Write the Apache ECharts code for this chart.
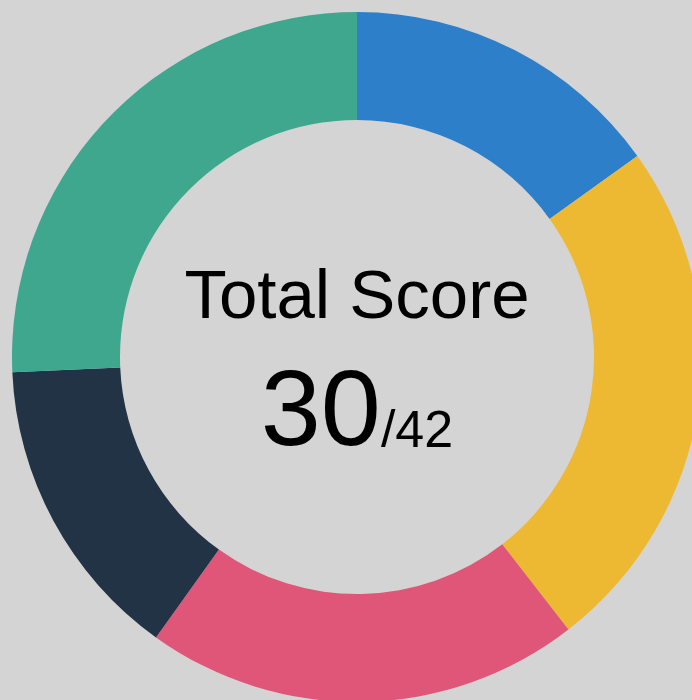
<!DOCTYPE html>
<html>
<head>
<meta charset="utf-8">
<script src="https://cdn.jsdelivr.net/npm/echarts@6/dist/echarts.min.js"></script>
<style>
  html, body { margin: 0; padding: 0; background: #d4d4d4; }
  #chart { width: 692px; height: 700px; }
</style>
</head>
<body>
<div id="chart"></div>
<script>
// segment values (angles -> shares)
var categories = ['Part 1', 'Part 2', 'Part 3', 'Part 4', 'Part 5'];
var values = [15.1, 24.4, 20.4, 14.4, 25.7];
var colors = ['#2d7fc9', '#eeb932', '#e05679', '#223345', '#40a78f'];
var score = 30;
var maxScore = 42;

var chart = echarts.init(document.getElementById('chart'));

var option = {
    backgroundColor: '#d4d4d4',
    animation: false,
    color: colors,
    graphic: [
        {
            type: 'text',
            x: 357,
            y: 299,
            style: {
                text: 'Total Score',
                fill: '#000',
                font: '69px "Liberation Sans", Arial, sans-serif',
                align: 'center',
                verticalAlign: 'middle'
            }
        },
        {
            type: 'text',
            x: 357,
            y: 415,
            style: {
                text: '{big|' + score + '}{small|/' + maxScore + '}',
                fill: '#000',
                align: 'center',
                verticalAlign: 'middle',
                rich: {
                    big: {
                        fontFamily: '"Liberation Sans", Arial, sans-serif',
                        fontSize: 108,
                        verticalAlign: 'bottom',
                        fill: '#000'
                    },
                    small: {
                        fontFamily: '"Liberation Sans", Arial, sans-serif',
                        fontSize: 52,
                        verticalAlign: 'bottom',
                        padding: [0, 0, 10, 0],
                        fill: '#000'
                    }
                }
            }
        }
    ],
    series: [
        {
            type: 'pie',
            center: [357, 357],
            radius: [237, 345],
            startAngle: 90,
            clockwise: true,
            label: { show: false },
            labelLine: { show: false },
            emphasis: { disabled: true },
            itemStyle: { borderWidth: 0 },
            data: categories.map(function (c, i) {
                return { name: c, value: values[i] };
            })
        }
    ]
};

chart.setOption(option);
</script>
</body>
</html>
